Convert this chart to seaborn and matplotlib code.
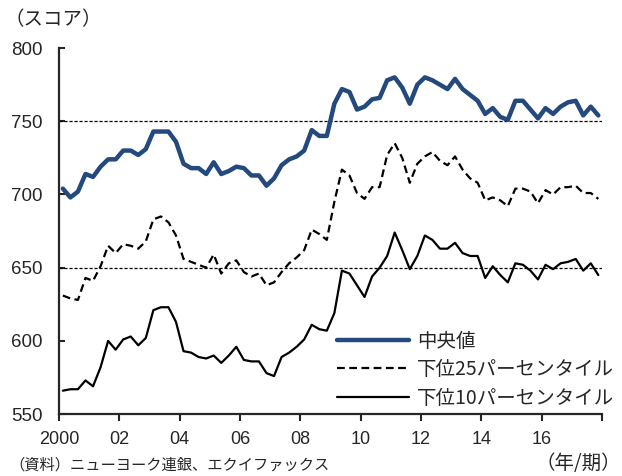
import numpy as np
import pandas as pd
import matplotlib.pyplot as plt
import seaborn as sns

# 四半期データ 2000Q1-2017Q4
years = np.arange(2000, 2018)
quarters = [f'{y}Q{q}' for y in years for q in range(1, 5)]

median = [704, 698, 702, 714, 712, 719, 724, 724, 730, 730, 727, 731,
          743, 743, 743, 736, 721, 718, 718, 714, 722, 714, 716, 719,
          718, 713, 713, 706, 711, 720, 724, 726, 730, 744, 740, 740,
          762, 772, 770, 758, 760, 765, 766, 778, 780, 773, 762, 775,
          780, 778, 775, 772, 779, 772, 768, 764, 755, 759, 753, 751,
          764, 764, 758, 752, 759, 755, 760, 763, 764, 754, 760, 754]

p25 = [631, 629, 628, 643, 641, 651, 665, 660, 666, 665, 663, 668,
       683, 685, 681, 672, 656, 654, 652, 650, 659, 646, 653, 655,
       647, 644, 646, 638, 640, 647, 653, 657, 662, 676, 673, 669,
       695, 717, 713, 701, 697, 705, 705, 727, 735, 725, 708, 721,
       726, 729, 723, 720, 726, 717, 711, 708, 696, 698, 696, 692,
       704, 704, 702, 694, 703, 700, 705, 705, 706, 701, 701, 697]

p10 = [566, 567, 567, 573, 569, 582, 600, 594, 601, 603, 597, 602,
       621, 623, 623, 613, 593, 592, 589, 588, 590, 585, 590, 596,
       587, 586, 586, 578, 576, 589, 592, 596, 601, 611, 608, 607,
       619, 648, 646, 638, 630, 644, 650, 658, 674, 662, 649, 658,
       672, 669, 663, 663, 667, 660, 658, 658, 643, 651, 645, 640,
       653, 652, 648, 642, 652, 649, 653, 654, 656, 648, 653, 645]

labels = ['中央値', '下位25パーセンタイル', '下位10パーセンタイル']
xtick_labels = ['2000', '02', '04', '06', '08', '10', '12', '14', '16', '']

# 四半期の中央に配置
x = np.array([2000 + i / 4 + 0.125 for i in range(len(quarters))])
df = pd.DataFrame({'x': x, 'median': median, 'p25': p25, 'p10': p10})

sns.set_style('ticks')
plt.rcParams['font.family'] = ['Liberation Sans', 'Noto Sans CJK JP']
jp = ['Noto Sans CJK JP', 'DejaVu Sans']

fig = plt.figure(figsize=(6.22, 4.76), dpi=100)
ax = fig.add_axes([0.095, 0.130, 0.873, 0.769])

ax.axhline(750, color='black', lw=0.9, ls=(0, (2.5, 1.5)), zorder=1)
ax.axhline(650, color='black', lw=0.9, ls=(0, (2.5, 1.5)), zorder=1)

sns.lineplot(data=df, x='x', y='median', ax=ax, color='#23497d', lw=3.2,
             label=labels[0])
sns.lineplot(data=df, x='x', y='p25', ax=ax, color='black', lw=1.6,
             label=labels[1])
sns.lineplot(data=df, x='x', y='p10', ax=ax, color='black', lw=1.6,
             label=labels[2])
ax.lines[3].set_linestyle((0, (3.5, 2)))

ax.set_xlim(2000, 2018)
ax.set_ylim(550, 800)
ax.set_xticks(np.arange(2000, 2019, 2))
ax.set_xticklabels(xtick_labels)
ax.set_yticks(np.arange(550, 801, 50))
ax.set_xlabel('')
ax.set_ylabel('')

ax.tick_params(axis='x', direction='out', length=5, width=1.5, pad=7,
               labelsize=13)
ax.tick_params(axis='y', direction='in', length=4, width=1.5, pad=12,
               labelsize=13.5)
for s in ['left', 'bottom']:
    ax.spines[s].set_linewidth(1.6)
sns.despine(ax=ax)

leg = ax.legend(loc='upper left', bbox_to_anchor=(0.542, 0.305),
                bbox_transform=fig.transFigure, frameon=False,
                handlelength=3.7, handletextpad=0.4, labelspacing=0.38,
                borderpad=0, borderaxespad=0, prop={'family': jp, 'size': 14})

fig.text(0.008, 0.958, '（スコア）', family=jp, fontsize=14, va='center')
fig.text(0.998, 0.027, '（年/期）', family=jp, fontsize=14, va='center',
         ha='right')
fig.text(0.015, 0.022, '（資料）ニューヨーク連銀、エクイファックス',
         family=jp, fontsize=11, va='center')

fig.savefig('out.png', dpi=100)
